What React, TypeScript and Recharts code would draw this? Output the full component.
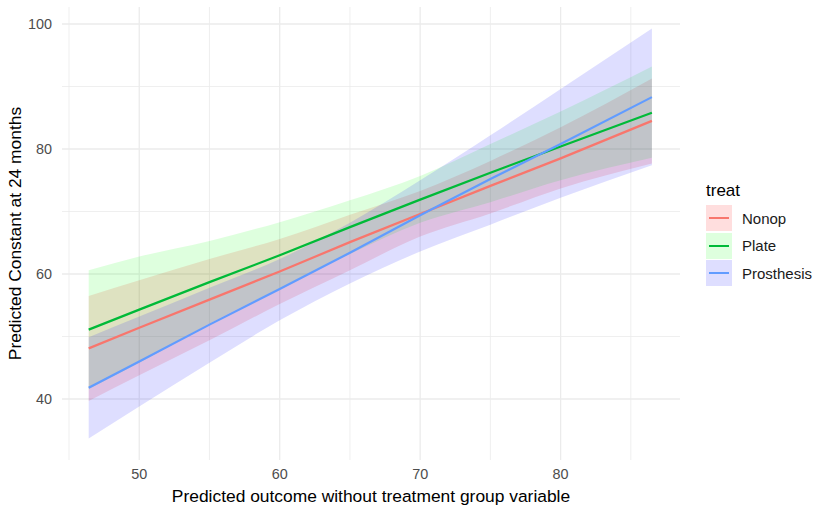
import React from 'react';
import { ComposedChart, Area, Line, XAxis, YAxis, CartesianGrid, Label } from 'recharts';

const predicted = [46.4, 50, 55, 60, 65, 70, 75, 80, 86.5];

const nonopFit = [48.1, 51.4, 55.9, 60.4, 65.1, 69.6, 74.1, 78.5, 84.5];
const nonopLow = [39.7, 43.8, 49.4, 55.2, 60.6, 66.0, 69.7, 73.7, 77.7];
const nonopHigh = [56.5, 59.0, 62.4, 65.6, 69.5, 73.3, 78.1, 83.5, 91.3];

const plateFit = [51.1, 54.3, 58.7, 63.0, 67.5, 71.9, 76.2, 80.4, 85.8];
const plateLow = [41.6, 45.8, 52.1, 57.7, 63.2, 68.2, 71.5, 75.0, 78.6];
const plateHigh = [60.6, 62.8, 65.3, 68.3, 71.8, 75.7, 80.8, 86.0, 93.2];

const prosthesisFit = [41.8, 46.0, 51.9, 57.6, 63.4, 69.4, 75.2, 80.8, 88.3];
const prosthesisLow = [33.7, 38.8, 45.8, 52.6, 58.5, 63.6, 67.9, 72.2, 77.4];
const prosthesisHigh = [49.9, 53.2, 57.8, 62.4, 68.2, 75.0, 82.2, 89.6, 99.3];

const xTicks = [50, 60, 70, 80];
const xMinor = [45, 55, 65, 75, 85];
const yTicks = [40, 60, 80, 100];
const yMinor = [50, 70, 90];

const groups = [
  { key: 'nonop', name: 'Nonop', line: '#F8766D', band: '#ff0000' },
  { key: 'plate', name: 'Plate', line: '#00BA38', band: '#00ff00' },
  { key: 'prosthesis', name: 'Prosthesis', line: '#619CFF', band: '#0000ff' },
];

const data = predicted.map((x, i) => ({
  x,
  nonop: nonopFit[i],
  nonopBand: [nonopLow[i], nonopHigh[i]],
  plate: plateFit[i],
  plateBand: [plateLow[i], plateHigh[i]],
  prosthesis: prosthesisFit[i],
  prosthesisBand: [prosthesisLow[i], prosthesisHigh[i]],
}));

const font = '"Liberation Sans", Arial, sans-serif';
const BAND_OPACITY = 0.13;

function TreatLegend() {
  return (
    <div style={{ position: 'absolute', left: 706, top: 181, fontFamily: font, color: '#000' }}>
      <div style={{ fontSize: 17, lineHeight: '20px', marginBottom: 4 }}>treat</div>
      {groups.map((g) => (
        <div key={g.key} style={{ display: 'flex', alignItems: 'center', height: 26, marginBottom: 1.5 }}>
          <div style={{ position: 'relative', width: 26, height: 26 }}>
            <div style={{ position: 'absolute', inset: 0, background: g.band, opacity: BAND_OPACITY }} />
            <div style={{ position: 'absolute', left: 3, right: 3, top: 12, height: 2, background: g.line }} />
          </div>
          <span style={{ fontSize: 15, marginLeft: 10, color: '#1a1a1a' }}>{g.name}</span>
        </div>
      ))}
    </div>
  );
}

export default function App() {
  const tick = { fill: '#4d4d4d', fontSize: 14.4, fontFamily: font };
  return (
    <div style={{ position: 'absolute', left: 0, top: 0, width: 816, height: 507, background: '#fff' }}>
      <ComposedChart width={816} height={507} data={data} margin={{ top: 7, right: 136, left: 0, bottom: 0 }}>
        <CartesianGrid stroke="#ebebeb" strokeWidth={0.8} verticalValues={xMinor} horizontalValues={yMinor} />
        <CartesianGrid stroke="#ebebeb" strokeWidth={1.3} verticalValues={xTicks} horizontalValues={yTicks} />
        <XAxis
          dataKey="x"
          type="number"
          domain={[44.5, 88.5]}
          ticks={xTicks}
          axisLine={false}
          tickLine={false}
          tickMargin={3}
          height={47}
          tick={tick}
        >
          <Label
            value="Predicted outcome without treatment group variable"
            position="insideBottom"
            offset={5}
            style={{ fill: '#000', fontSize: 17.4, fontFamily: font }}
          />
        </XAxis>
        <YAxis
          type="number"
          domain={[30.24, 102.72]}
          ticks={yTicks}
          axisLine={false}
          tickLine={false}
          tickMargin={4}
          width={62}
          tick={tick}
        >
          <Label
            value="Predicted Constant at 24 months"
            angle={-90}
            position="insideLeft"
            offset={15}
            style={{ fill: '#000', fontSize: 17.4, fontFamily: font, textAnchor: 'middle' }}
          />
        </YAxis>
        {groups.map((g) => (
          <Area
            key={g.key + 'Band'}
            type="monotone"
            dataKey={g.key + 'Band'}
            stroke="none"
            fill={g.band}
            fillOpacity={BAND_OPACITY}
            isAnimationActive={false}
            activeDot={false}
          />
        ))}
        {groups.map((g) => (
          <Line
            key={g.key}
            type="linear"
            dataKey={g.key}
            stroke={g.line}
            strokeWidth={2.2}
            dot={false}
            activeDot={false}
            isAnimationActive={false}
          />
        ))}
      </ComposedChart>
      <TreatLegend />
    </div>
  );
}
